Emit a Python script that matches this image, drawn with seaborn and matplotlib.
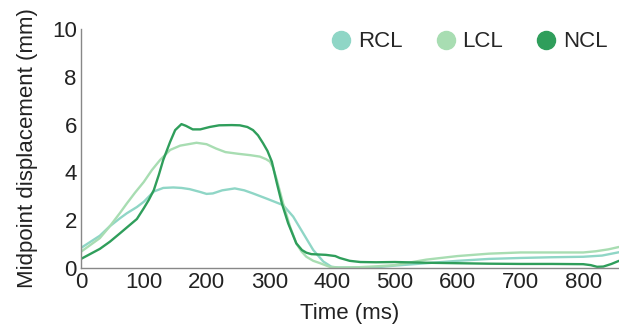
import numpy as np
import pandas as pd
import matplotlib
matplotlib.use("Agg")
import matplotlib.pyplot as plt
from matplotlib.lines import Line2D
import seaborn as sns

series_names = ["RCL", "LCL", "NCL"]
colors = {"RCL": "#8fd6c6", "LCL": "#a8ddb2", "NCL": "#2f9e5b"}

rcl_t = [0, 30, 46, 62, 73, 89, 100, 116, 131, 147, 160, 173, 190, 200, 210, 225, 245, 260, 274, 296, 322, 338, 354, 370, 386, 399, 410, 430, 470, 500, 550, 600, 650, 700, 750, 800, 830, 857]
rcl_y = [0.84, 1.35, 1.75, 2.08, 2.29, 2.55, 2.77, 3.2, 3.35, 3.37, 3.35, 3.3, 3.18, 3.1, 3.12, 3.25, 3.33, 3.25, 3.12, 2.9, 2.63, 2.15, 1.45, 0.75, 0.27, 0.05, 0.02, 0.02, 0.03, 0.1, 0.2, 0.3, 0.38, 0.42, 0.45, 0.47, 0.52, 0.66]

lcl_t = [0, 30, 46, 62, 73, 86, 100, 113, 126, 142, 158, 184, 200, 215, 230, 250, 270, 285, 295, 301, 306, 312, 322, 333, 343, 351, 359, 370, 381, 396, 410, 440, 470, 500, 550, 600, 650, 700, 750, 800, 820, 840, 857]
lcl_y = [0.68, 1.25, 1.75, 2.3, 2.7, 3.15, 3.6, 4.1, 4.52, 4.94, 5.12, 5.24, 5.18, 5.0, 4.85, 4.78, 4.72, 4.66, 4.55, 4.45, 4.2, 3.68, 2.7, 1.73, 1.03, 0.7, 0.47, 0.3, 0.2, 0.05, 0.02, 0.03, 0.07, 0.12, 0.35, 0.5, 0.6, 0.65, 0.65, 0.65, 0.7, 0.78, 0.88]

ncl_t = [0, 30, 46, 62, 89, 100, 108, 116, 124, 131, 142, 150, 160, 167, 178, 190, 205, 220, 240, 253, 265, 274, 282, 290, 297, 304, 312, 320, 330, 343, 352, 359, 367, 390, 405, 412, 428, 445, 470, 500, 550, 600, 650, 700, 750, 800, 812, 822, 832, 845, 857]
ncl_y = [0.38, 0.8, 1.1, 1.45, 2.05, 2.5, 2.85, 3.26, 3.9, 4.52, 5.28, 5.77, 6.02, 5.95, 5.8, 5.8, 5.9, 5.97, 5.98, 5.97, 5.9, 5.77, 5.55, 5.22, 4.9, 4.45, 3.55, 2.7, 1.87, 1.03, 0.75, 0.64, 0.58, 0.55, 0.5, 0.42, 0.3, 0.25, 0.24, 0.25, 0.22, 0.2, 0.18, 0.17, 0.17, 0.16, 0.12, 0.05, 0.06, 0.17, 0.3]

x_ticks = [0, 100, 200, 300, 400, 500, 600, 700, 800]
y_ticks = [0, 2, 4, 6, 8, 10]

df = pd.concat([
    pd.DataFrame({"t": rcl_t, "y": rcl_y, "s": "RCL"}),
    pd.DataFrame({"t": lcl_t, "y": lcl_y, "s": "LCL"}),
    pd.DataFrame({"t": ncl_t, "y": ncl_y, "s": "NCL"}),
])

sns.set_style("white")
plt.rcParams["font.family"] = ["Liberation Sans", "DejaVu Sans"]

fig = plt.figure(figsize=(6.19, 3.32), dpi=100)
ax = fig.add_axes([81/619, (332-268)/332, (619-81)/619, 239/332])

sns.lineplot(data=df, x="t", y="y", hue="s", hue_order=series_names,
             palette=colors, ax=ax, legend=False, linewidth=1.7, sort=False)
for line in ax.get_lines():
    line.set_solid_capstyle("round")
    line.set_solid_joinstyle("round")

ax.set_xlim(0, 857)
ax.set_ylim(0, 10)
ax.set_xticks(x_ticks)
ax.set_yticks(y_ticks)
ax.tick_params(axis="both", direction="in", length=4, width=1, color="#888888",
               labelsize=16, pad=3, labelcolor="#222222")
for side in ["top", "right"]:
    ax.spines[side].set_visible(False)
for side in ["left", "bottom"]:
    ax.spines[side].set_color("#888888")
    ax.spines[side].set_linewidth(1)
ax.set_xlabel("Time (ms)", fontsize=16, color="#222222", labelpad=7)
ax.set_ylabel("Midpoint displacement (mm)", fontsize=16, color="#222222", labelpad=10)

handles = [Line2D([0], [0], marker="o", linestyle="none", markersize=13,
                  markerfacecolor=colors[s], markeredgecolor=colors[s], label=s)
           for s in series_names]
ax.legend(handles=handles, ncol=3, frameon=False, fontsize=16,
          loc="center right", bbox_to_anchor=(0.995, 0.946),
          handletextpad=0.0, columnspacing=1.2, borderaxespad=0, handlelength=1.5)

fig.savefig("out.png", dpi=100)
